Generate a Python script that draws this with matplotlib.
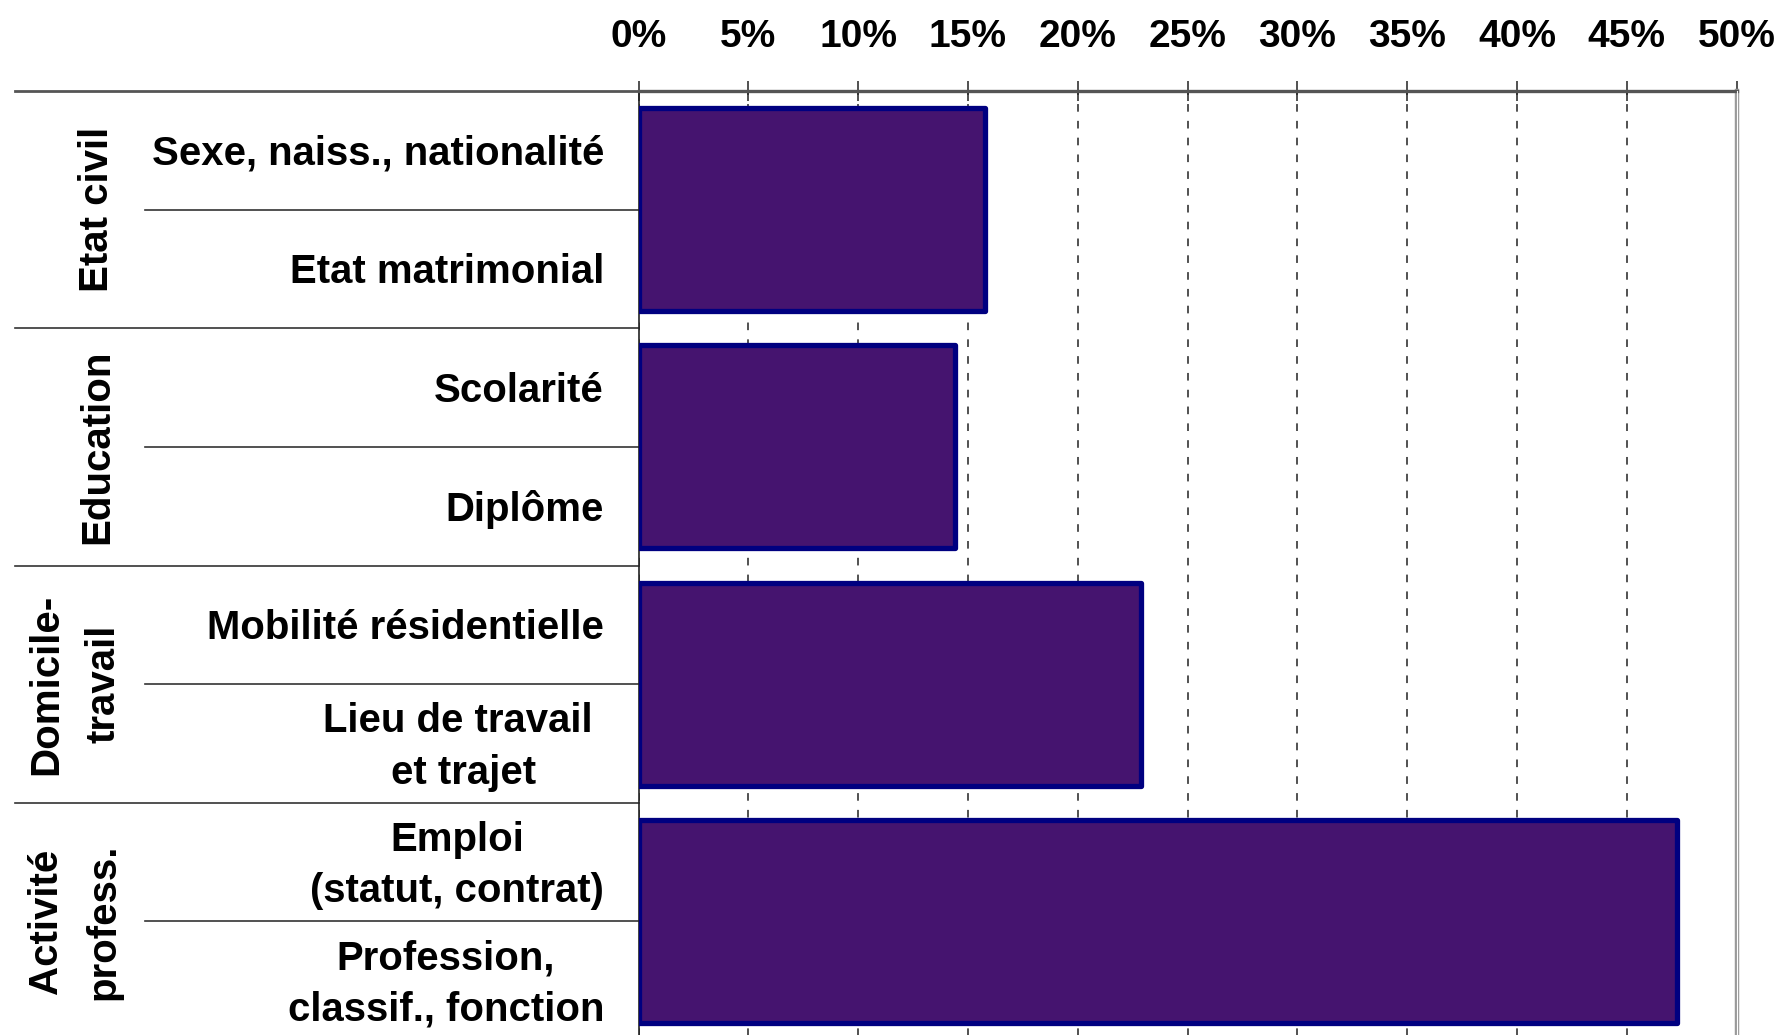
# -*- coding: utf-8 -*-

'''
Variables du recensement - barres horizontales par groupe
'''

import matplotlib
matplotlib.use('Agg')
import matplotlib.pyplot as plt
import matplotlib.transforms as mtransforms
from matplotlib.ticker import FuncFormatter

################################################################################

groups = ['Etat civil', 'Education', 'Domicile-\ntravail', 'Activité\nprofess.']
sub_labels = [
    'Sexe, naiss., nationalité',
    'Etat matrimonial',
    'Scolarité',
    'Diplôme',
    'Mobilité résidentielle',
    'Lieu de travail \net trajet',
    'Emploi\n(statut, contrat)',
    'Profession,\nclassif., fonction',
]
group_values = [15.8, 14.4, 22.9, 47.3]
x_ticks = [0, 5, 10, 15, 20, 25, 30, 35, 40, 45, 50]

################################################################################

plt.rcParams['font.family'] = ['Liberation Sans', 'DejaVu Sans']
plt.rcParams['font.weight'] = 'bold'

W, H = 1780, 1035
fig = plt.figure(figsize=(W / 100, H / 100), dpi=100)

ax_left, ax_right = 638.5 / W, 1736.5 / W
ax_top, ax_bot = 1 - 91 / H, 1 - 1040 / H
ax = fig.add_axes([ax_left, ax_bot, ax_right - ax_left, ax_top - ax_bot])

n_rows = len(sub_labels)
ax.set_ylim(n_rows - 0.5, -0.5)
ax.set_xlim(0, 50)

# bars: one per group, each covering two rows
centers = [2 * i + 0.5 for i in range(len(groups))]
bars = ax.barh(centers, group_values, height=1.71, color='#45146f',
               edgecolor='#000080', linewidth=3.8, zorder=3)
for b in bars:
    b.set_joinstyle('round')

# grid
ax.set_axisbelow(True)
ax.xaxis.grid(True, color='#222222', linewidth=1.1, linestyle=(0, (5, 6)))
ax.yaxis.grid(False)

# axis on top
ax.xaxis.tick_top()
ax.set_xticks(x_ticks)
ax.xaxis.set_major_formatter(FuncFormatter(lambda v, p: '{:d}%'.format(int(v))))
ax.tick_params(axis='x', direction='inout', length=14, width=1.1,
               color='#222222', pad=19, labelsize=28)
for lab in ax.get_xticklabels():
    lab.set_fontweight('bold')
ax.set_yticks([])

ax.spines['bottom'].set_visible(False)
ax.spines['top'].set_color('#555555')
ax.spines['top'].set_linewidth(2.4)
ax.spines['left'].set_color('#222222')
ax.spines['left'].set_linewidth(1.2)
ax.spines['right'].set_color('#9a9a9a')
ax.spines['right'].set_linewidth(3.2)
ax.axvline(50, color='white', linewidth=0.8, zorder=5, clip_on=False)

# table lines on the left
trans = mtransforms.blended_transform_factory(fig.transFigure, ax.transData)
x_outer, x_inner = 15 / W, 145 / W
for k in range(len(groups) + 1):
    y = 2 * k - 0.5
    ax.plot([x_outer, ax_left], [y, y], color='#333333' if k else '#555555',
            linewidth=1.2 if k else 2.0, transform=trans, clip_on=False)
for k in range(len(groups)):
    y = 2 * k + 0.5
    ax.plot([x_inner, ax_left], [y, y], color='#333333', linewidth=1.2,
            transform=trans, clip_on=False)

# sub labels (small downward nudge to sit like the original)
for i, lab in enumerate(sub_labels):
    ax.text(604 / W, i + 0.03, lab, transform=trans, ha='right', va='center',
            multialignment='center', fontsize=28.9, fontweight='bold',
            linespacing=1.45)

# group labels
for i, g in enumerate(groups):
    x = 97 / W if '\n' not in g else 75 / W
    ax.text(x, 2 * i + 0.5, g, transform=trans, rotation=90, ha='center',
            va='center', multialignment='center', fontsize=29,
            fontweight='bold', linespacing=1.65)

fig.savefig('out.png', dpi=100)
